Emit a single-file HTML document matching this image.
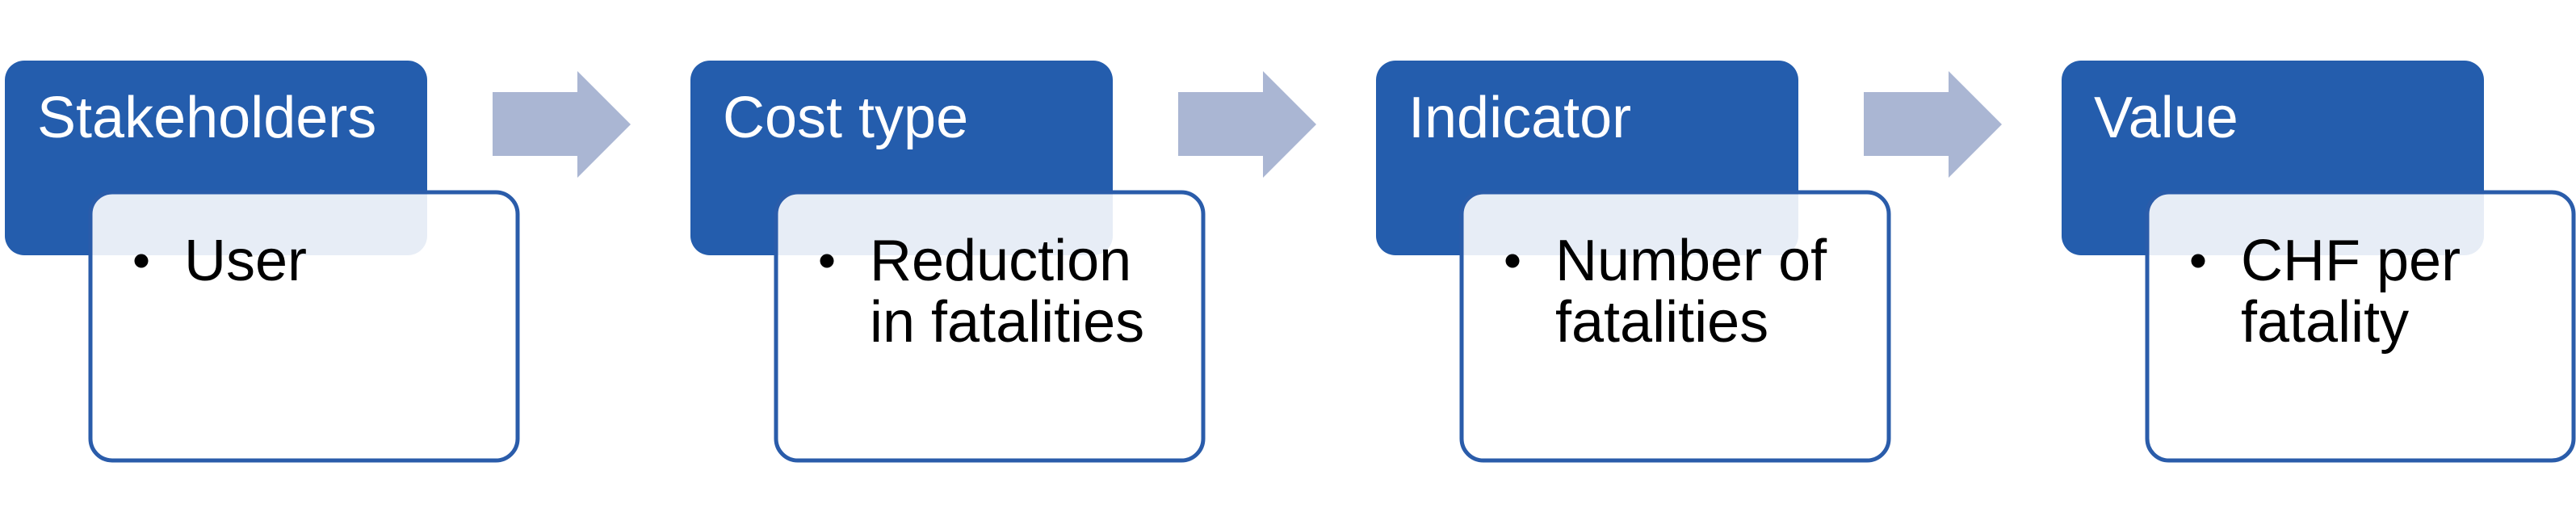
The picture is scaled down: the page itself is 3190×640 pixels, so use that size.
<!DOCTYPE html>
<html><head><meta charset="utf-8"><style>html,body{margin:0;padding:0;background:#fff}svg{display:block}</style></head>
<body>
<svg width="3190" height="640" viewBox="0 0 3190 640" xmlns="http://www.w3.org/2000/svg" font-family="Liberation Sans, Arial, sans-serif">
<defs>
<g id="arrow"><polygon points="610,114 715,114 715,88 781,154 715,220 715,193 610,193" fill="#AAB6D3"/></g>
</defs>
<g>
<rect x="6" y="75" width="523" height="241" rx="24" fill="#245DAD"/>
<rect x="112" y="238" width="529" height="332" rx="27" fill="#fff" fill-opacity="0.89" stroke="#2A5CAA" stroke-width="5"/>
<text x="46" y="170" font-size="72" fill="#fff">Stakeholders</text>
<circle cx="175" cy="323" r="8.5" fill="#000"/>
<text x="228" y="347" font-size="72" fill="#000">User</text>
<use href="#arrow"/>
</g>
<g transform="translate(849,0)">
<rect x="6" y="75" width="523" height="241" rx="24" fill="#245DAD"/>
<rect x="112" y="238" width="529" height="332" rx="27" fill="#fff" fill-opacity="0.89" stroke="#2A5CAA" stroke-width="5"/>
<text x="46" y="170" font-size="72" fill="#fff">Cost type</text>
<circle cx="175" cy="323" r="8.5" fill="#000"/>
<text x="228" y="347" font-size="72" fill="#000">Reduction</text>
<text x="228" y="423" font-size="72" fill="#000">in fatalities</text>
<use href="#arrow"/>
</g>
<g transform="translate(1698,0)">
<rect x="6" y="75" width="523" height="241" rx="24" fill="#245DAD"/>
<rect x="112" y="238" width="529" height="332" rx="27" fill="#fff" fill-opacity="0.89" stroke="#2A5CAA" stroke-width="5"/>
<text x="46" y="170" font-size="72" fill="#fff">Indicator</text>
<circle cx="175" cy="323" r="8.5" fill="#000"/>
<text x="228" y="347" font-size="72" fill="#000">Number of</text>
<text x="228" y="423" font-size="72" fill="#000">fatalities</text>
<use href="#arrow"/>
</g>
<g transform="translate(2547,0)">
<rect x="6" y="75" width="523" height="241" rx="24" fill="#245DAD"/>
<rect x="112" y="238" width="528" height="332" rx="27" fill="#fff" fill-opacity="0.89" stroke="#2A5CAA" stroke-width="5"/>
<text x="46" y="170" font-size="72" fill="#fff">Value</text>
<circle cx="175" cy="323" r="8.5" fill="#000"/>
<text x="228" y="347" font-size="72" fill="#000">CHF per</text>
<text x="228" y="423" font-size="72" fill="#000">fatality</text>
</g>
</svg>
</body></html>
